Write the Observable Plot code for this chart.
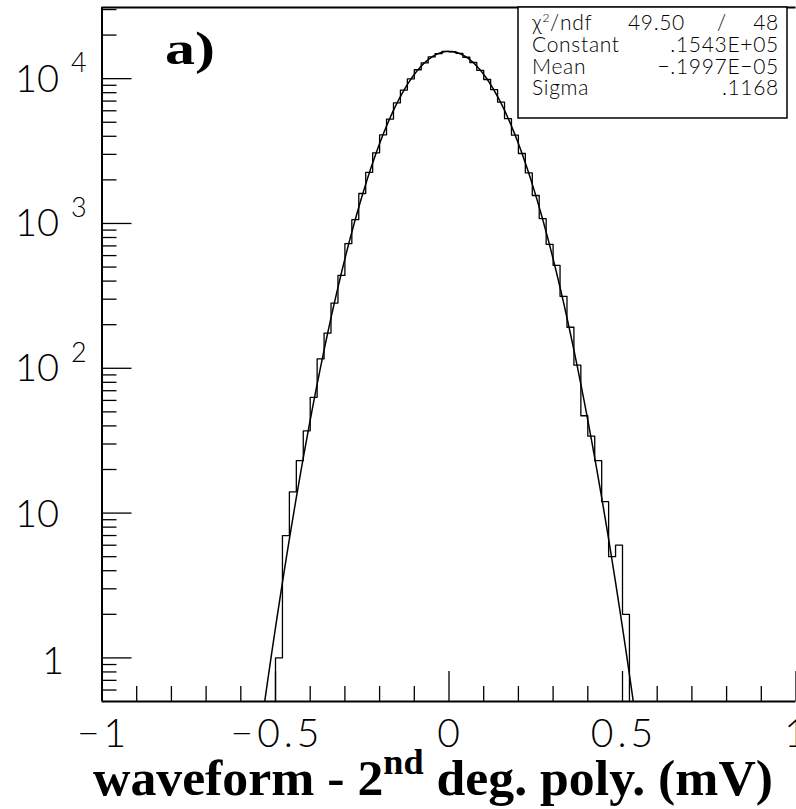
<!DOCTYPE html>
<html><head><meta charset="utf-8">
<script src="https://cdn.jsdelivr.net/npm/d3@7"></script>
<script src="https://cdn.jsdelivr.net/npm/@observablehq/plot@0.6"></script>
<style>
html,body{margin:0;padding:0;background:#fff;}
#chart{position:relative;width:796px;height:809px;overflow:hidden;}
svg text{font-family:Lato,"DejaVu Sans",sans-serif;}
</style></head><body><div id="chart"></div>
<script>
// ---- data ----
const binEdges = [-0.50,-0.48,-0.46,-0.44,-0.42,-0.40,-0.38,-0.36,-0.34,-0.32,-0.30,-0.28,-0.26,-0.24,-0.22,-0.20,-0.18,-0.16,-0.14,-0.12,-0.10,-0.08,-0.06,-0.04,-0.02,0.00,0.02,0.04,0.06,0.08,0.10,0.12,0.14,0.16,0.18,0.20,0.22,0.24,0.26,0.28,0.30,0.32,0.34,0.36,0.38,0.40,0.42,0.44,0.46,0.48,0.50,0.52];
const binCounts = [1,7,14,23,37,63,116,175,282,438,726,1064,1610,2250,3074,4096,5255,6812,8337,9950,11520,12850,14120,14880,15410,15340,14960,14050,12930,11420,9870,8390,6880,5290,4074,3042,2235,1560,1081,718,514,314,192,105,47,34,23,12,5,6,2];
const fitConstant = 0.1543e5, fitMean = -0.1997e-5, fitSigma = 0.1168;
const fitRange = [-0.56, 0.56];
const statLabels = ["Constant", "Mean", "Sigma"];
const statValues = [".1543E+05", "\u2212.1997E\u221205", ".1168"];
const chi2 = "49.50", ndf = "48";
const xDomain = [-1, 1];
const yDomain = [0.5, 31000];
const xMajorTicks = [-1, -0.5, 0, 0.5, 1];
const xMinorTicks = [-0.9,-0.8,-0.7,-0.6,-0.4,-0.3,-0.2,-0.1,0.1,0.2,0.3,0.4,0.6,0.7,0.8,0.9];
const xTickLabels = ["\u22121", "\u22120.5", "0", "0.5", "1"];
const yMajorTicks = [1, 10, 100, 1000, 10000];
const yMinorTicks = [0.6,0.7,0.8,0.9,2,3,4,5,6,7,8,9,20,30,40,50,60,70,80,90,200,300,400,500,600,700,800,900,2000,3000,4000,5000,6000,7000,8000,9000,20000,30000];
const yTickBase = ["1", "10", "10", "10", "10"];
const yTickExp = ["", "", "2", "3", "4"];

// ---- derived mark data ----
const histPts = [{x: binEdges[0], y: yDomain[0]}];
binCounts.forEach((c, i) => histPts.push({x: binEdges[i], y: c}));
histPts.push({x: binEdges[binEdges.length - 1], y: binCounts[binCounts.length - 1]});
histPts.push({x: binEdges[binEdges.length - 1], y: yDomain[0]});

const fitPts = d3.range(fitRange[0], fitRange[1] + 1e-9, 0.002).map(x => ({
  x, y: fitConstant * Math.exp(-0.5 * ((x - fitMean) / fitSigma) ** 2)
}));

const tickStyle = {stroke: "black", strokeWidth: 1.3, tickFormat: () => "", label: null};

const plot = Plot.plot({
  width: 796, height: 809,
  marginLeft: 101.5, marginRight: 0.5, marginTop: 7, marginBottom: 108,
  x: {domain: xDomain},
  y: {type: "log", domain: yDomain},
  style: {background: "white", overflow: "visible"},
  marks: [
    Plot.axisY(yMajorTicks, {...tickStyle, tickSize: -30}),
    Plot.axisY(yMinorTicks, {...tickStyle, tickSize: -15}),
    Plot.axisX(xMajorTicks, {...tickStyle, tickSize: -30}),
    Plot.axisX(xMinorTicks, {...tickStyle, tickSize: -15}),
    Plot.line(histPts, {x: "x", y: "y", curve: "step-after", stroke: "black", strokeWidth: 1.3}),
    Plot.line(fitPts, {x: "x", y: "y", clip: true, stroke: "black", strokeWidth: 1.5}),
    Plot.ruleX([xDomain[0]], {stroke: "black", strokeWidth: 2}),
    Plot.ruleY([yDomain[0], yDomain[1]], {stroke: "black", strokeWidth: 2})
  ]
});
document.getElementById("chart").appendChild(plot);

const sx = plot.scale("x"), sy = plot.scale("y");
const svg = d3.select(plot);
const g = svg.append("g").attr("text-anchor", "start").attr("fill", "black");

// y tick labels
yMajorTicks.forEach((v, i) => {
  const y = sy.apply(v);
  const t = g.append("text").attr("text-anchor", "start").attr("font-size", 38).attr("font-weight", 300);
  if (yTickExp[i]) {
    t.attr("x", 15).attr("y", y + 13.5).text(yTickBase[i]);
    g.append("text").attr("text-anchor", "start").attr("x", 71).attr("y", y - 6).attr("font-size", 27).attr("font-weight", 300).text(yTickExp[i]);
  } else if (yTickBase[i] === "10") {
    t.attr("x", 15).attr("y", y + 14).text(yTickBase[i]);
  } else {
    t.attr("x", 42).attr("y", y + 17).text(yTickBase[i]);
  }
});

// x tick labels
xMajorTicks.forEach((v, i) => {
  g.append("text").attr("x", sx.apply(v) + 2).attr("y", 747).attr("text-anchor", "middle")
    .attr("font-size", 39).attr("font-weight", 300).attr("letter-spacing", 4).text(xTickLabels[i]);
});

// stats box
g.append("rect").attr("x", 518).attr("y", 7).attr("width", 269).attr("height", 111)
  .attr("fill", "white").attr("stroke", "black").attr("stroke-width", 1.5);
const st = {"font-size": 21, "font-weight": 300, "letter-spacing": 0.7};
function txt(x, y, s, anchor) {
  const t = g.append("text").attr("x", x).attr("y", y).attr("text-anchor", anchor || "start").text(s);
  for (const k in st) t.attr(k, st[k]);
  return t;
}
const r1 = txt(532, 30, "");
r1.append("tspan").text("\u03c7");
r1.append("tspan").attr("dy", -8).attr("font-size", 12).text("2");
r1.append("tspan").attr("dy", 8).text("/ndf");
txt(685, 30, chi2, "end");
txt(722, 30, "/", "middle");
txt(779, 30, ndf, "end");
const rowY = [52, 73.5, 95];
statLabels.forEach((l, i) => { txt(532, rowY[i], l); txt(779, rowY[i], statValues[i], "end"); });

// panel label
g.append("text").attr("x", 165).attr("y", 64).attr("text-anchor", "start").attr("font-size", 46).attr("font-weight", "bold")
  .attr("textLength", 50).attr("lengthAdjust", "spacingAndGlyphs")
  .style("font-family", '"Liberation Serif","DejaVu Serif",serif').text("a)");

// axis title
const tt = g.append("text").attr("x", 93).attr("y", 795).attr("text-anchor", "start").attr("font-size", 50).attr("font-weight", "bold")
  .attr("textLength", 680).attr("lengthAdjust", "spacingAndGlyphs")
  .style("font-family", '"Liberation Serif","DejaVu Serif",serif');
tt.append("tspan").text("waveform - 2");
tt.append("tspan").attr("dy", -21).attr("font-size", 35).text("nd");
tt.append("tspan").attr("dy", 21).text(" deg. poly. (mV)");
</script></body></html>
